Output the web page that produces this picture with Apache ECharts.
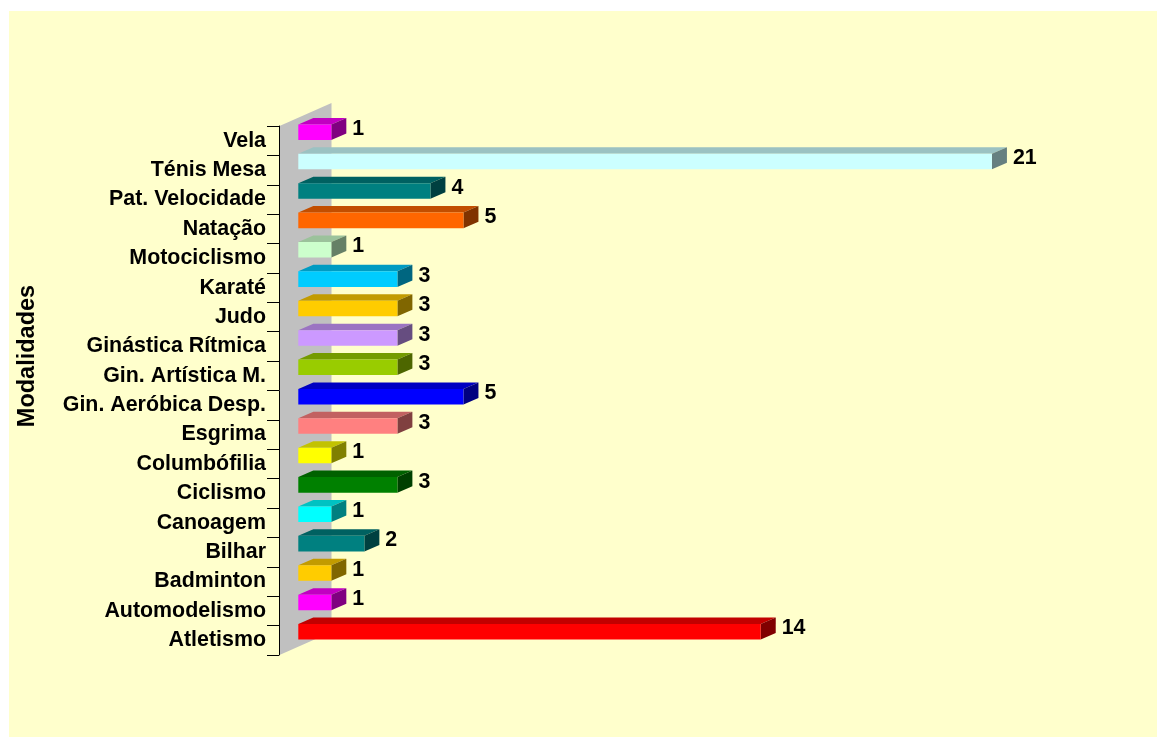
<!DOCTYPE html>
<html>
<head>
<meta charset="utf-8">
<title>Modalidades</title>
<script src="https://cdn.jsdelivr.net/npm/echarts@6/dist/echarts.min.js"></script>
<style>
  html, body { margin: 0; padding: 0; background: #ffffff; }
  #chart { width: 1157px; height: 737px; }
</style>
</head>
<body>
<div id="chart"></div>
<script>
// Sports (top to bottom) and number of entries per sport
const categories = ['Vela', 'Ténis Mesa', 'Pat. Velocidade', 'Natação', 'Motociclismo', 'Karaté', 'Judo',
  'Ginástica Rítmica', 'Gin. Artística M.', 'Gin. Aeróbica Desp.', 'Esgrima', 'Columbófilia', 'Ciclismo',
  'Canoagem', 'Bilhar', 'Badminton', 'Automodelismo', 'Atletismo'];
const values = [1, 21, 4, 5, 1, 3, 3, 3, 3, 5, 3, 1, 3, 1, 2, 1, 1, 14];
const barColors = ['#FF00FF', '#CCFFFF', '#008080', '#FF6600', '#CCFFCC', '#00CCFF', '#FFCC00',
  '#CC99FF', '#99CC00', '#0000FF', '#FF8080', '#FFFF00', '#008000',
  '#00FFFF', '#008080', '#FFCC00', '#FF00FF', '#FF0000'];
const axisTitle = 'Modalidades';

const FONT = '"Liberation Sans", Arial, sans-serif';

// pseudo-3D geometry (pixels)
const WALL_DX = 52, WALL_DY = 23;      // depth of the side wall
const FRONT_DX = 19.3, FRONT_DY = 8.5; // where the bars' front faces sit inside the wall
const BAR_DX = 15, BAR_DY = 6.5;       // bar depth
const BAR_RATIO = 0.53;                // bar thickness relative to band

function shade(hex, f) {
  const n = parseInt(hex.slice(1), 16);
  const r = Math.round(((n >> 16) & 255) * f);
  const g = Math.round(((n >> 8) & 255) * f);
  const b = Math.round((n & 255) * f);
  return 'rgb(' + r + ',' + g + ',' + b + ')';
}

function renderWall(params) {
  const cs = params.coordSys;
  const x = cs.x + 0.5, y = cs.y, h = cs.height;
  return {
    type: 'polygon',
    shape: { points: [[x, y], [x + WALL_DX, y - WALL_DY], [x + WALL_DX, y + h - WALL_DY], [x, y + h]] },
    style: { fill: '#C0C0C0' },
    silent: true
  };
}

function renderBar(params, api) {
  const v = api.value(0);
  const c = api.value(1);
  const origin = api.coord([0, c]);
  const end = api.coord([v, c]);
  const band = api.size([0, 1])[1];
  const h = band * BAR_RATIO;
  const x0 = origin[0] + FRONT_DX;
  const x1 = end[0] + FRONT_DX;
  const yT = origin[1] - FRONT_DY - h / 2;
  const yB = yT + h;
  const color = barColors[params.dataIndex];
  return {
    type: 'group',
    children: [
      {
        type: 'polygon',
        shape: { points: [[x0, yT], [x1, yT], [x1 + BAR_DX, yT - BAR_DY], [x0 + BAR_DX, yT - BAR_DY]] },
        style: { fill: shade(color, 0.76) }
      },
      {
        type: 'polygon',
        shape: { points: [[x1, yT], [x1 + BAR_DX, yT - BAR_DY], [x1 + BAR_DX, yB - BAR_DY], [x1, yB]] },
        style: { fill: shade(color, 0.5) }
      },
      {
        type: 'rect',
        shape: { x: x0, y: yT, width: x1 - x0, height: h },
        style: { fill: color }
      },
      {
        type: 'text',
        x: x1 + BAR_DX + 6,
        y: (yT - BAR_DY + yB) / 2,
        style: {
          text: String(v),
          fill: '#000',
          font: 'bold 21.4px ' + FONT,
          align: 'left',
          verticalAlign: 'middle'
        }
      }
    ]
  };
}

const chart = echarts.init(document.getElementById('chart'), null, { renderer: 'canvas' });

chart.setOption({
  backgroundColor: '#ffffff',
  animation: false,
  graphic: [
    {
      type: 'rect', z: -100, silent: true,
      shape: { x: 9, y: 11, width: 1148, height: 726 },
      style: { fill: '#FFFFCC' }
    },
    {
      type: 'text', z: 10, silent: true,
      x: 27.5, y: 356, rotation: Math.PI / 2,
      style: {
        text: axisTitle, fill: '#000', font: 'bold 23.5px ' + FONT,
        align: 'center', verticalAlign: 'middle'
      }
    }
  ],
  grid: {
    left: 279, top: 126, right: 52.25, bottom: 82,
    containLabel: false, outerBoundsMode: 'none'
  },
  xAxis: { type: 'value', min: 0, max: 25, show: false },
  yAxis: {
    type: 'category',
    data: categories,
    inverse: true,
    z: 5,
    axisLine: { show: true, lineStyle: { color: '#000', width: 1 } },
    axisTick: { show: true, length: 12, interval: 0, lineStyle: { color: '#000' } },
    axisLabel: {
      interval: 0, margin: 13, color: '#000',
      fontFamily: FONT, fontWeight: 'bold', fontSize: 21.4
    },
    splitLine: { show: false }
  },
  series: [
    {
      type: 'custom', z: 1, clip: false, silent: true,
      renderItem: renderWall,
      data: [[0, 0]]
    },
    {
      type: 'custom', z: 2, clip: false, silent: true,
      renderItem: renderBar,
      encode: { x: 0, y: 1 },
      data: values.map((v, i) => [v, i])
    }
  ]
});
</script>
</body>
</html>
